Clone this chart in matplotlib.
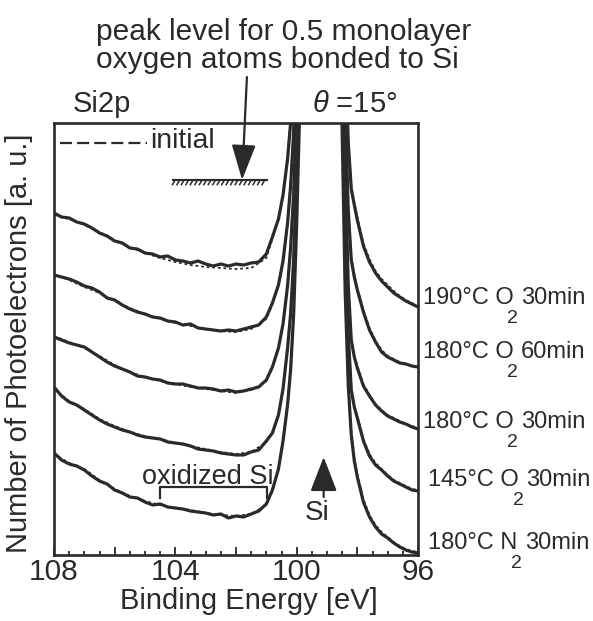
import matplotlib
matplotlib.use("Agg")
import matplotlib.pyplot as plt
from matplotlib import font_manager as fm
import matplotlib.patheffects as pe
from matplotlib.ticker import FixedLocator, MultipleLocator

names = {f.name for f in fm.fontManager.ttflist}
FONT = "Liberation Sans" if "Liberation Sans" in names else "DejaVu Sans"
plt.rcParams["font.family"] = [FONT, "DejaVu Sans"]
plt.rcParams["mathtext.fontset"] = "custom"
plt.rcParams["mathtext.rm"] = FONT
plt.rcParams["mathtext.it"] = FONT + ":italic"

INK = "#2a2a2a"

# ---------------- data (binding energy in eV, intensity in a.u., stacked) ----------------
energy = [108.0, 107.75, 107.5, 107.25, 107.0, 106.75, 106.5, 106.25, 106.0, 105.75,
          105.5, 105.25, 105.0, 104.75, 104.5, 104.25, 104.0, 103.75, 103.5, 103.25,
          103.0, 102.75, 102.5, 102.25, 102.0, 101.75, 101.5, 101.25, 101.0,
          100.8, 100.6, 100.45, 100.3, 100.2, 100.1, 100.0, 99.9, 99.6, 99.3, 99.0,
          98.7, 98.5, 98.4, 98.3,
          98.2, 98.1, 98.0, 97.8, 97.6, 97.4, 97.2, 97.0, 96.8, 96.6, 96.4, 96.2, 96.0]

s_190_o2_30 = [342, 338, 337, 333, 331, 327, 322, 319, 314, 312, 307, 306, 302, 301, 298,
               299, 295, 294, 292, 294, 291, 289, 291, 289, 291, 290, 292, 293, 301,
               318, 336, 360, 396, 432, 486, 576, 691, 950, 1100, 1050, 900, 668, 508, 413,
               366, 350, 335, 309, 293, 282, 274, 268, 262, 258, 254, 251, 248]
s_180_o2_60 = [280, 278, 276, 273, 269, 267, 263, 257, 255, 250, 246, 243, 241, 238, 237,
               234, 233, 230, 231, 227, 226, 225, 224, 225, 224, 226, 228, 230, 238,
               252, 270, 294, 332, 369, 423, 513, 628, 950, 1100, 1050, 900, 608, 448, 345,
               295, 278, 265, 243, 225, 213, 203, 198, 195, 192, 191, 189, 188]
s_180_o2_30 = [218, 215, 212, 210, 208, 203, 198, 193, 189, 186, 183, 179, 178, 176, 175,
               172, 171, 171, 169, 167, 167, 166, 164, 165, 163, 164, 166, 168, 175,
               188, 207, 231, 269, 307, 361, 451, 566, 950, 1100, 1050, 900, 546, 386, 270,
               215, 198, 187, 169, 159, 150, 144, 139, 136, 133, 131, 128, 126]
s_145_o2_30 = [168, 159, 153, 150, 145, 140, 135, 131, 128, 125, 123, 120, 118, 117, 116,
               113, 112, 111, 109, 106, 105, 104, 102, 101, 100, 100, 103, 105, 114,
               122, 140, 166, 207, 241, 295, 385, 500, 950, 1100, 1050, 900, 484, 324, 222,
               165, 148, 137, 114, 99, 90, 85, 79, 74, 71, 68, 65, 64]
s_180_n2_30 = [102, 95, 91, 89, 85, 79, 74, 71, 65, 62, 58, 57, 53, 50, 51,
               48, 47, 46, 44, 43, 42, 40, 41, 37, 39, 38, 41, 44, 51,
               65, 86, 114, 150, 185, 240, 330, 445, 950, 1100, 1050, 900, 422, 262, 170,
               120, 94, 78, 53, 38, 28, 21, 17, 12, 8, 5, 3, 2]

energy_init = [108.0, 107.5, 107.0, 106.5, 106.0, 105.5, 105.0, 104.5, 104.0, 103.5,
               103.0, 102.5, 102.0, 101.5, 101.0,
               100.8, 100.6, 100.45, 100.3, 100.2, 100.1, 100.0, 99.9, 99.6, 99.3, 99.0,
               98.7, 98.5, 98.4, 98.3,
               98.2, 98.1, 98.0, 97.8, 97.6, 97.4, 97.2, 97.0, 96.8, 96.6, 96.4, 96.2, 96.0]
i_190_o2_30 = [340, 336, 330, 323, 315, 308, 302, 297, 293, 290, 288, 287, 286, 287, 297,
               316, 336, 361, 398, 436, 490, 580, 700, 960, 1110, 1060, 910, 675, 515, 418,
               370, 353, 338, 312, 296, 284, 276, 270, 264, 259, 255, 252, 249]
i_180_o2_60 = [281, 275, 268, 262, 254, 247, 241, 236, 232, 229, 226, 224, 223, 226, 236,
               251, 270, 295, 334, 372, 427, 518, 635, 960, 1110, 1060, 910, 614, 452, 350,
               298, 281, 267, 245, 227, 214, 205, 199, 196, 193, 191, 189, 188]
i_180_o2_30 = [219, 213, 207, 199, 190, 183, 178, 174, 171, 168, 166, 164, 162, 165, 174,
               188, 207, 232, 271, 310, 365, 456, 572, 960, 1110, 1060, 910, 550, 390, 273,
               218, 200, 189, 171, 160, 151, 145, 140, 137, 134, 131, 129, 127]
i_145_o2_30 = [166, 154, 146, 136, 129, 123, 119, 116, 112, 109, 106, 103, 101, 103, 113,
               123, 141, 167, 208, 245, 300, 390, 505, 960, 1110, 1060, 910, 488, 328, 225,
               168, 150, 139, 116, 101, 92, 86, 80, 75, 72, 69, 66, 65]
i_180_n2_30 = [101, 92, 86, 75, 66, 59, 54, 50, 47, 45, 42, 40, 39, 41, 50,
               64, 86, 115, 152, 188, 244, 335, 452, 960, 1110, 1060, 910, 428, 266, 174,
               124, 98, 81, 56, 40, 30, 23, 18, 13, 9, 6, 4, 3]

treated = [s_190_o2_30, s_180_o2_60, s_180_o2_30, s_145_o2_30, s_180_n2_30]
initial = [i_190_o2_30, i_180_o2_60, i_180_o2_30, i_145_o2_30, i_180_n2_30]

label_temp = ["190°C", "180°C", "180°C", "145°C", "180°C"]
label_gas = ["O", "O", "O", "O", "N"]
label_sub = ["2", "2", "2", "2", "2"]
label_time = ["30min", "60min", "30min", "30min", "30min"]

x_ticks_major = [108, 106, 104, 102, 100, 98, 96]
x_ticklabels = ["108", "", "104", "", "100", "", "96"]

# ---------------- figure ----------------
W, H = 593, 621
fig = plt.figure(figsize=(W / 100, H / 100), dpi=100)
fig.patch.set_facecolor("white")
AX_L, AX_R, AX_T, AX_B = 54, 418, 123, 555
ax = fig.add_axes([AX_L / W, 1 - AX_B / H, (AX_R - AX_L) / W, (AX_B - AX_T) / H])


def fx(px):
    return px / W


def fy(py):
    return 1 - py / H


for s, i in zip(treated, initial):
    ax.plot(energy, s, color=INK, lw=2.3, solid_joinstyle="round", solid_capstyle="round")
    ax.plot(energy_init, i, color=INK, lw=1.3, ls=(0, (1.5, 1.6)))

ax.set_xlim(108, 96)
ax.set_ylim(0, 432)
ax.set_yticks([])
ax.xaxis.set_major_locator(FixedLocator(x_ticks_major))
ax.set_xticklabels(x_ticklabels)
ax.xaxis.set_minor_locator(MultipleLocator(0.5))
ax.tick_params(axis="x", which="major", direction="in", length=6, width=1.3,
               color=INK, labelsize=21.5, labelcolor=INK, pad=2)
ax.tick_params(axis="x", which="minor", direction="in", length=3.2, width=1.3, color=INK)
for sp in ax.spines.values():
    sp.set_linewidth(1.9)
    sp.set_color(INK)

ax.set_xlabel("Binding Energy [eV]", fontsize=21, color=INK)
ax.xaxis.set_label_coords(0.534, -0.075)
ax.set_ylabel("Number of Photoelectrons [a. u.]", fontsize=21, color=INK)
ylab = ax.yaxis.label
ylab.set_rotation_mode("default")
ylab.set_va("center")
ylab.set_ha("center")
ax.yaxis.set_label_coords((19 - AX_L) / (AX_R - AX_L), (AX_B - 343) / (AX_B - AX_T))

# legend-like "initial" entry
ax.plot([(60 - AX_L) / 364, (147 - AX_L) / 364], [(AX_B - 143) / 432] * 2,
        transform=ax.transAxes, color=INK, lw=1.6, ls=(0, (5.4, 2.3)))
ax.text((150 - AX_L) / 364, (AX_B - 141) / 432, "initial", transform=ax.transAxes,
        ha="left", va="center", fontsize=20.5, color=INK)

# hatched peak level reference
ax.plot([100.98, 104.08], [375, 375], color=INK, lw=1.5,
        path_effects=[pe.withTickedStroke(spacing=3.2, angle=60, length=1.2, linewidth=1.1),
                      pe.Normal()])
ax.annotate("", xy=(101.80, 375), xytext=(101.64, 478), xycoords="data",
            arrowprops=dict(arrowstyle="-|>,head_length=2.2,head_width=0.75",
                            mutation_scale=10, lw=1.6, color=INK, shrinkA=0, shrinkB=0),
            annotation_clip=False)

# oxidized Si bracket
ax.plot([104.5, 104.5, 100.99, 100.99], [57, 68, 68, 57], color=INK, lw=1.6)
ax.text(102.94, 78, "oxidized Si", ha="center", va="center", fontsize=19.5, color=INK)

# Si arrow
ax.annotate("", xy=(99.11, 98), xytext=(99.11, 58), xycoords="data",
            arrowprops=dict(arrowstyle="-|>,head_length=2.15,head_width=0.83",
                            mutation_scale=10, lw=1.6, color=INK, shrinkA=0, shrinkB=0))
ax.text(99.31, 42, "Si", ha="center", va="center", fontsize=20, color=INK)

# top texts
fig.text(fx(96), fy(32), "peak level for 0.5 monolayer", ha="left", va="center",
         fontsize=21.5, color=INK)
fig.text(fx(96), fy(60), "oxygen atoms bonded to Si", ha="left", va="center",
         fontsize=21.5, color=INK)
fig.text(fx(73), fy(104), "Si2p", ha="left", va="center", fontsize=21, color=INK)
fig.text(fx(312), fy(104), r"$\theta$ =15°", ha="left", va="center", fontsize=21, color=INK)

# right-hand curve labels
label_pos = [(423, 298), (423, 352), (423, 422), (428, 480), (428, 543)]
for (lx, ly), t, g, sub, tm in zip(label_pos, label_temp, label_gas, label_sub, label_time):
    main = fig.text(fx(lx), fy(ly), f"{t} {g}", ha="left", va="center", fontsize=17, color=INK)
    s_art = ax.annotate(sub, xy=(1, 0.5), xycoords=main, xytext=(-4.5, -15),
                        textcoords="offset points", ha="left", va="center",
                        fontsize=14, color=INK)
    ax.annotate(tm, xy=(1, 0.5), xycoords=s_art, xytext=(2.0, 15),
                textcoords="offset points", ha="left", va="center", fontsize=17, color=INK)

fig.savefig("out.png", dpi=100, facecolor="white")
